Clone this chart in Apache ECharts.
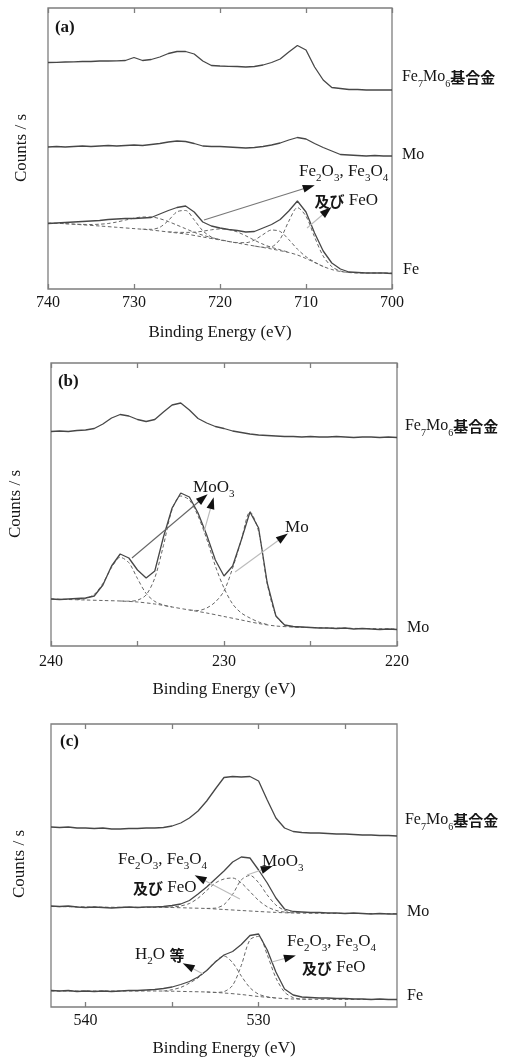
<!DOCTYPE html>
<html><head><meta charset="utf-8">
<script src="https://cdn.jsdelivr.net/npm/echarts@6/dist/echarts.min.js"></script>
<style>html,body{margin:0;padding:0;background:#fff}#c{width:507px;height:1058px}</style>
</head><body><div id="c"></div>
<script>
// ---------- Panel (a): Fe 2p ----------
const energyA = [740,739,738,737,736,735,734,733,732,731,730,729,728,727,726,725,724,723,722,721,720,719,718,717,716,715,714,713,712,711,710,709,708,707,706,705,704,703,702,701,700];
const feMoA = [226.5,226.7,227,227.2,227.5,227.5,228,228,228.2,228.5,231.5,228.5,229.5,232,235.5,237.5,237.5,235,228,223.5,223,222.7,222.5,222,222.5,224,226.5,230,237,243.5,239,222,209,201.5,200.5,199.5,199.5,199,199,199,199];
const moA = [142,142.5,142,142.5,143,142.5,143,143.5,143,143.5,144,143.5,144.5,145.5,147,148,147.5,145.5,143,142.5,142.5,142,141.5,141,141.5,142.5,144,146,149,151.5,150,145.5,141.5,138,134.5,134,133.5,133,133.5,133,133];
const feA = [65.5,66,66.5,67,67.5,68,68.5,69.5,70,70.5,70.5,71,71.5,75,78.5,81.5,83,77,67,63,61,59.5,58.5,57,57.5,61,64.5,69.5,78,88,77,56,38,26,20,17,16.5,16,16,16,15.5];
const fitBgA = [[740,66],[738,65.3],[736,64.2],[734,63],[732,61.7],[730,60.4],[728,59],[726,57],[724,55],[722,52],[720,49],[718,46],[716,43],[714,40],[712,36.5],[711,34],[710,30.5],[709,26.5],[708,22.5],[707,19.5],[706,17.5],[705,16.5],[704,16],[700,16]];
const fit1A = [[729,59.8],[728,59.7],[727,61.7],[726,68.5],[725,77.2],[724,78.5],[723,69.1],[722,58.2],[721,52],[720,49.2]];
const fit2A = [[738,65.35],[737,64.9],[736,64.6],[735,64.5],[734,64.8],[733,65.5],[732,67],[731,68.9],[730,70.8],[729,72],[728,72],[727,70.3],[726,67.4],[725,63.9],[724,60.3],[723,56.7],[722,53.8],[721,51.4],[720,49.4],[719,47.6]];
const fit3A = [[726,57.2],[725,56.7],[724,56.6],[723,56.8],[722,57.8],[721,59.2],[720,60.1],[719,59.5],[718,57.1],[717,53.2],[716,48.8],[715,44.8],[714,41.6],[713,39.2],[712,36.7]];
const fit4A = [[719,47.55],[718,46.4],[717,46.3],[716,48.9],[715,54.4],[714,59],[713,57.5],[712,49.4],[711,39.9],[710,32.3],[709,26.9],[708,22.55]];
const fit5A = [[716,43],[715,41.8],[714,42.3],[713,50],[712,67.8],[711,81.4],[710,72.8],[709,52],[708,32.9],[707,22.4],[706,18],[705,16.5]];
const ticksA = [740,730,720,710,700];
const labelsA = [740,730,720,710,700];

// ---------- Panel (b): Mo 3d ----------
const energyB = [240,239.5,239,238.5,238,237.5,237,236.5,236,235.5,235,234.5,234,233.5,233,232.5,232,231.5,231,230.5,230,229.5,229,228.5,228,227.5,227,226.5,226,225.5,225,224.5,224,223.5,223,222.5,222,221.5,221,220.5,220];
const feMoB = [214.5,215,214.5,215.5,216,217.5,222,228,231.5,230,226.5,224.5,226.5,234,241,243,236,227.5,223,219.5,217.5,215,213.5,212,211,210.5,210,209.5,209.5,209,209.5,209,209,209.5,209,208.5,209,209,208.5,209,208.5];
const moB = [47,46.5,47,47.5,48,50,61,80,92,88,76,68,75,109,138,153,149,133,111,86,70,80,106,134,118,63,30,21,19.5,19,18.5,18,18,17.5,18,17,17.5,17,16.5,17,16.5];
const fitBgB = [[240,47],[239,46.5],[238,46],[237,45.5],[236,45],[235,44],[234,42],[233,39],[232,36],[231,33],[230,29.5],[229,26],[228,22.5],[227,20],[226,19],[225,18.5],[224,18],[222,17.5],[220,17]];
const fit1B = [[238.5,46.4],[238,47.4],[237.5,51.6],[237,62.6],[236.5,78.4],[236,88.7],[235.5,83.3],[235,67.4],[234.5,52.5],[234,44.6],[233.5,41],[233,39.05]];
const fit2B = [[236,45],[235.5,44.8],[235,45.8],[234.5,51.1],[234,68.1],[233.5,100.5],[233,136.4],[232.5,150],[232,146],[231.5,130],[231,107],[230.5,80],[230,58],[229.5,42],[229,33],[228.5,28],[228,24],[227.5,21.5]];
const fit3B = [[232,36],[231.5,35.5],[231,38],[230.5,44],[230,55],[229.5,78],[229,106],[228.5,134.2],[228,114.5],[227.5,62.2],[227,30.8],[226.5,21.1],[226,19.1],[225.5,18.7]];
const ticksB = [240,235,230,225,220];
const labelsB = [240,230,220];

// ---------- Panel (c): O 1s ----------
const energyC = [542,541.5,541,540.5,540,539.5,539,538.5,538,537.5,537,536.5,536,535.5,535,534.5,534,533.5,533,532.5,532,531.5,531,530.5,530,529.5,529,528.5,528,527.5,527,526.5,526,525.5,525,524.5,524,523.5,523,522.5,522];
const feMoC = [180,179.5,180,179,179,178.5,179,178,178,178.5,178.5,179,179,179.5,181,184,189,196,206,218,229.5,230.5,230,230.5,226,207,189,179,175.5,174.5,174,174,173.5,173,173,172.5,172,172,171.5,171.5,171];
const moC = [101,100.5,101,100,99.5,100,99.5,99,99.5,100,99.5,100,100,100.5,101.5,103,106.5,113,120,128,136,145,150,149,137,124,109,98,95.5,95,94.5,94.5,94,94,93.5,94,93.5,93,93.5,93,93];
const feC = [16.5,16,16.5,15.5,16,15.5,16,15.5,16,16.5,16.5,17,17.5,18.5,20,22.5,25.5,30,36.5,45,52,55.5,62.5,71.5,73,57,35,18,12,10,9.5,9,9,8.5,8.5,8,8,7.5,8,7.5,7.5];
const fitBgCmo = [[542,100.5],[540,100],[538,99.7],[536,99.7],[535,99.5],[534,99],[533,98.5],[532,97.5],[531,96.5],[530,95.5],[529,94.6],[528,94],[526,93.7],[524,93.5],[522,93.3]];
const fit1Cmo = [[535.5,99.6],[535,100],[534.5,101.1],[534,103.5],[533.5,108.8],[533,116.5],[532.5,124],[532,128],[531.5,129],[531,124.1],[530.5,115.4],[530,106.6],[529.5,100.2],[529,96.6],[528.5,94.9],[528,94.1]];
const fit2Cmo = [[533,98.6],[532.5,98.9],[532,102.4],[531.5,112.7],[531,127.1],[530.5,131.6],[530,124.3],[529.5,112],[529,102],[528.5,96.7],[528,94.6],[527.5,93.9]];
const fitBgCfe = [[542,16],[540,16],[538,16],[536,16],[535,15.8],[534,15.4],[533,15],[532,14],[531,12.5],[530,10.5],[529,9],[528,8],[526,7.7],[524,7.6],[522,7.5]];
const fit1Cfe = [[535.5,16],[535,17.3],[534.5,19.6],[534,23.9],[533.5,29.2],[533,36.5],[532.5,45.5],[532,51],[531.5,44.3],[531,31],[530.5,19.3],[530,12.8],[529.5,10.3],[529,9]];
const fit2Cfe = [[533,15],[532.5,14.6],[532,15.4],[531.5,21.7],[531,41.6],[530.5,67.2],[530,70.6],[529.5,52.1],[529,29.1],[528.5,15],[528,9.4],[527.5,8],[527,7.8]];
const ticksC = [540,535,530,525];
const labelsC = [540,530];

// ---------- chart ----------
const SERIF = 'Liberation Serif';
const CJK = 'Noto Sans CJK JP';
const TXT = '#161616';
const chart = echarts.init(document.getElementById('c'), null, {renderer: 'canvas'});

const panels = [
  {left:48, top:8, width:344, height:281, min:700, max:740, ticks:ticksA, labels:labelsA, ymax:281, margin:6, nameGap:35},
  {left:51, top:363, width:346, height:283, min:220, max:240, ticks:ticksB, labels:labelsB, ymax:283, margin:8, nameGap:35},
  {left:51, top:724, width:346, height:283, min:522, max:542, ticks:ticksC, labels:labelsC, ymax:283, margin:6, nameGap:33}
];

const grids = [], xAxes = [], yAxes = [];
panels.forEach((p, i) => {
  grids.push({left:p.left, top:p.top, width:p.width, height:p.height, show:true, borderColor:'#7e7e7e', borderWidth:1.3});
  const tick = {show:true, inside:true, length:5, lineStyle:{color:'#7e7e7e', width:1.3}, customValues:p.ticks};
  xAxes.push({type:'value', gridIndex:i, min:p.min, max:p.max, inverse:true, position:'bottom',
    axisLine:{show:false}, splitLine:{show:false}, axisTick:tick,
    axisLabel:{show:true, customValues:p.labels, margin:p.margin, fontFamily:SERIF, fontSize:16, color:TXT},
    name:'Binding Energy (eV)', nameLocation:'middle', nameGap:p.nameGap,
    nameTextStyle:{fontFamily:SERIF, fontSize:17, color:TXT}});
  xAxes.push({type:'value', gridIndex:i, min:p.min, max:p.max, inverse:true, position:'top',
    axisLine:{show:false}, splitLine:{show:false}, axisTick:tick, axisLabel:{show:false}});
  yAxes.push({type:'value', gridIndex:i, min:0, max:p.ymax, show:false});
});

const pair = (en, vals) => vals.map((v, k) => [en[k], v]);

function arrowLines(list) {
  const out = [];
  list.forEach(a => {
    const [x1, y1, x2, y2, col] = a;
    out.push([{coord:[x1, y1], symbol:'none', lineStyle:{color:col, width:1.1, type:'solid'}}, {coord:[x2, y2], symbol:'none'}]);
    const f = 0.04;
    out.push([{coord:[x2 - (x2 - x1) * f, y2 - (y2 - y1) * f], symbol:'none', lineStyle:{color:'#111', width:1, type:'solid'}},
              {coord:[x2, y2], symbol:'triangle', symbolSize:[8, 12]}]);
  });
  return {silent:true, animation:false, symbol:['none','none'], label:{show:false}, emphasis:{disabled:true}, data:out};
}

function spectrum(i, data, arrows) {
  const s = {type:'line', xAxisIndex:2*i, yAxisIndex:i, data, symbol:'none', showSymbol:false,
    lineStyle:{color:'#474747', width:1.3}, animation:false, z:3, silent:true};
  if (arrows) s.markLine = arrowLines(arrows);
  return s;
}
function fit(i, data) {
  return {type:'line', xAxisIndex:2*i, yAxisIndex:i, data, symbol:'none', showSymbol:false, smooth:0.3,
    lineStyle:{color:'#666', width:1, type:[3.5, 2.5]}, animation:false, z:2, silent:true};
}

const series = [
  spectrum(0, pair(energyA, feMoA)),
  spectrum(0, pair(energyA, moA)),
  spectrum(0, pair(energyA, feA), [[721.86, 69, 709.65, 102, '#777'], [709.88, 61, 707.56, 78, '#bbb']]),
  fit(0, fitBgA), fit(0, fit1A), fit(0, fit2A), fit(0, fit3A), fit(0, fit4A), fit(0, fit5A),

  spectrum(1, pair(energyB, feMoB)),
  spectrum(1, pair(energyB, moB), [[235.32, 88, 231.21, 148, '#666'], [231.16, 114, 230.69, 143, '#bbb'], [229.36, 74, 226.59, 109, '#bbb']]),
  fit(1, fitBgB), fit(1, fit1B), fit(1, fit2B), fit(1, fit3B),

  spectrum(2, pair(energyC, feMoC)),
  spectrum(2, pair(energyC, moC), [[531.08, 108, 533.39, 129, '#bbb'], [530.67, 132, 529.51, 139, '#bbb']]),
  spectrum(2, pair(energyC, feC), [[533.21, 33, 534.08, 41, '#bbb'], [529.23, 45, 528.18, 50, '#bbb']]),
  fit(2, fitBgCmo), fit(2, fit1Cmo), fit(2, fit2Cmo),
  fit(2, fitBgCfe), fit(2, fit1Cfe), fit(2, fit2Cfe)
];

chart.setOption({backgroundColor:'#fff', animation:false, grid:grids, xAxis:xAxes, yAxis:yAxes, series});

// ---------- text annotations (anchored in data coordinates) ----------
const rich = {
  r:{fontFamily:SERIF, fontSize:16, color:TXT, lineHeight:24},
  a:{fontFamily:SERIF, fontSize:17, color:TXT, lineHeight:24},
  b:{fontFamily:SERIF, fontSize:17, fontWeight:'bold', color:TXT, lineHeight:24},
  s:{fontFamily:SERIF, fontSize:10, color:TXT, lineHeight:12, verticalAlign:'bottom'},
  t:{fontFamily:SERIF, fontSize:11, color:TXT, lineHeight:12, verticalAlign:'bottom'},
  j:{fontFamily:CJK, fontSize:15, fontWeight:'bold', color:TXT, lineHeight:24}
};
const FEMO = '{r|Fe}{s|7}{r|Mo}{s|6}{j|基合金}';
const OXI = '{a|Fe}{t|2}{a|O}{t|3}{a|, Fe}{t|3}{a|O}{t|4}';
const ANDFEO = '{j|及び}{a| FeO}';
const notes = [
  [0, 739.2, 261, '{b|(a)}'],
  [0, 698.84, 212, FEMO], [0, 698.84, 134, '{r|Mo}'], [0, 698.72, 19, '{r|Fe}'],
  [0, 710.8, 117, OXI], [0, 709.0, 88, ANDFEO],
  [1, 239.6, 264, '{b|(b)}'],
  [1, 219.54, 220, FEMO], [1, 219.42, 18, '{r|Mo}'],
  [1, 231.79, 158, '{a|MoO}{t|3}'], [1, 226.47, 118, '{a|Mo}'],
  [2, 541.48, 265, '{b|(c)}'],
  [2, 521.54, 187, FEMO], [2, 521.42, 95, '{r|Mo}'], [2, 521.42, 11, '{r|Fe}'],
  [2, 538.13, 147, OXI], [2, 537.26, 119, ANDFEO], [2, 529.8, 145, '{a|MoO}{t|3}'],
  [2, 537.14, 52, '{a|H}{t|2}{a|O }{j|等}'],
  [2, 528.36, 65, OXI], [2, 527.49, 39, ANDFEO]
];
const graphic = notes.map(n => {
  const p = chart.convertToPixel({xAxisIndex:2*n[0], yAxisIndex:n[0]}, [n[1], n[2]]);
  return {type:'text', x:p[0], y:p[1], silent:true, z:10,
    style:{text:n[3], rich, align:'left', verticalAlign:'middle', fill:TXT}};
});
[[22, 148], [16, 504], [20, 864]].forEach(c => {
  graphic.push({type:'text', x:c[0], y:c[1], rotation:Math.PI/2, silent:true,
    style:{text:'Counts / s', font:'17px "Liberation Serif"', fill:TXT, align:'center', verticalAlign:'middle'}});
});
chart.setOption({graphic});
</script></body></html>
